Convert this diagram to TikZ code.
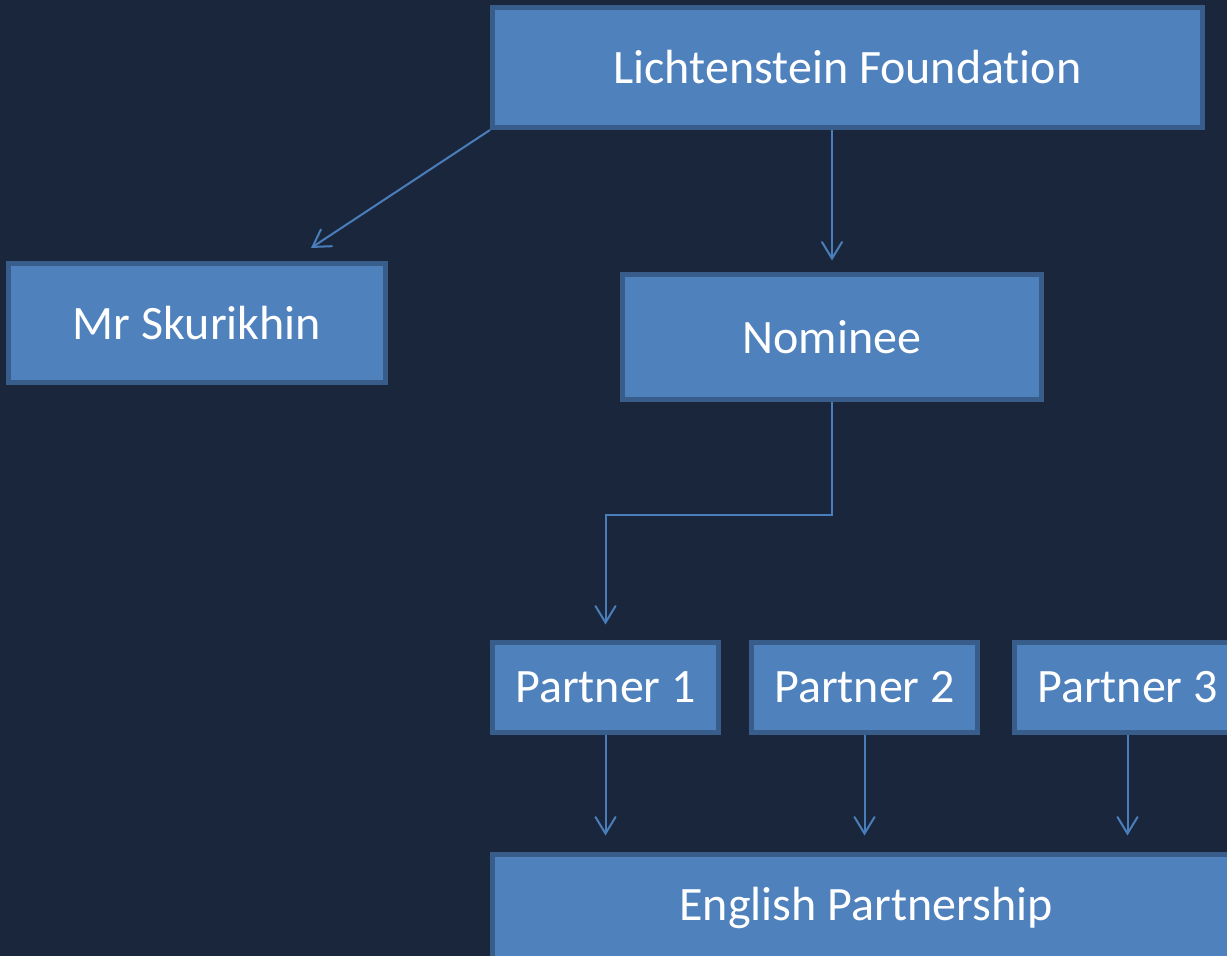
\documentclass[tikz,border=0pt]{standalone}
\usepackage{fontspec}
\setmainfont{Carlito}[Ligatures=NoCommon]
\usetikzlibrary{arrows.meta,calc}
\definecolor{bgnavy}{HTML}{1A263C}
\definecolor{boxfill}{HTML}{4F81BD}
\definecolor{boxline}{HTML}{385D8A}
\definecolor{linkblue}{HTML}{4A7EBB}
\begin{document}
\begin{tikzpicture}[x=0.5pt,y=-0.5pt]
        \tikzstyle{entity}=[rectangle,draw=boxline,line width=2.5pt,fill=boxfill,text=white,inner sep=0pt,font=\fontsize{24}{28}\selectfont]
        \tikzstyle{partner}=[entity,minimum width=113pt,minimum height=45pt]
        \tikzstyle{edge}=[draw=linkblue,line width=1pt,-{Straight Barb[length=8.25pt,width=10pt,line cap=round]}]

       \fill[bgnavy] (0,0) rectangle (1227,956);
       \useasboundingbox (0,0) rectangle (1227,956);
       \clip (0,0) rectangle (1227,956);

       \begin{scope}

         \node [entity,minimum width=355pt,minimum height=60pt] (found) at (847.5,67.5) {Lichtenstein Foundation};
         \node [entity,minimum width=188.5pt,minimum height=59.5pt] (skurikhin) at (197,323) {Mr Skurikhin};
         \node [entity,minimum width=209.5pt,minimum height=62.5pt] (nominee) at (832,337) {Nominee};
         \node [partner] (p1) at (605.5,687.5) {Partner 1};
         \node [partner] (p2) at (864.5,687.5) {Partner 2};
         \node [partner] (p3) at (1127.5,687.5) {Partner 3};
         \node [entity,minimum width=373.5pt,minimum height=53.5pt] (english) at (866,908) {English Partnership};

         \coordinate (skin) at (311,248);

 		\path[edge] (found.south west) -- (skin);
 		\path[edge, shorten >=5.75pt] (found.south -| nominee) -- (nominee);
 		\path[edge, shorten >=7.75pt] (nominee.south) -- ++(0,113) -| (p1.north);
 		\path[edge, shorten >=8.25pt] (p1.south) -- (p1 |- english.north);
 		\path[edge, shorten >=8.25pt] (p2.south) -- (p2 |- english.north);
 		\path[edge, shorten >=8.25pt] (p3.south) -- (p3 |- english.north);

        \end{scope}
      \end{tikzpicture}
\end{document}
